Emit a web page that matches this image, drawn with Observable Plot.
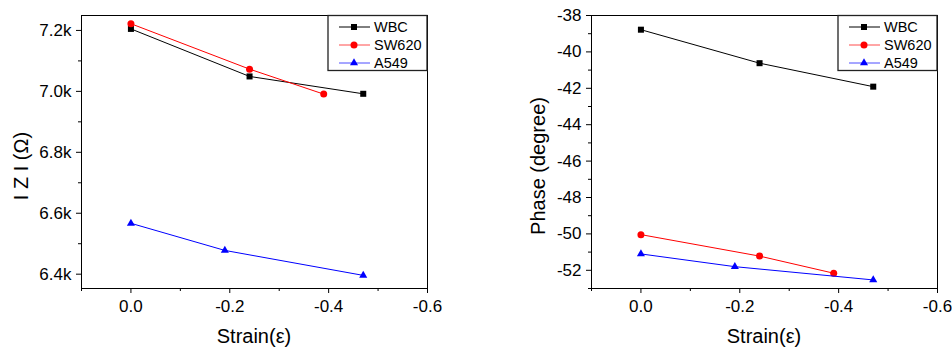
<!DOCTYPE html>
<html>
<head>
<meta charset="utf-8">
<script src="https://cdn.jsdelivr.net/npm/d3@7"></script>
<script src="https://cdn.jsdelivr.net/npm/@observablehq/plot@0.6"></script>
<style>
  html, body { margin: 0; padding: 0; background: #fff; }
  #wrap { display: flex; width: 952px; height: 349px; }
  svg { font-family: "Liberation Sans", Arial, sans-serif; }
</style>
</head>
<body>
<div id="wrap"></div>
<script>
// ---- data ----
const seriesNames = ["WBC", "SW620", "A549"];
const seriesColors = ["#000000", "#ff0000", "#0000ff"];
const seriesSymbols = ["square", "circle", "triangle"];
const seriesRadius = [3.4, 3.5, 3.0];

const strainWBC = [0, -0.24, -0.47];
const strainSW620 = [0, -0.24, -0.39];
const strainA549 = [0, -0.19, -0.47];

const impedanceWBC = [7205, 7049, 6992];
const impedanceSW620 = [7222, 7073, 6991];
const impedanceA549 = [6567, 6478, 6396];

const phaseWBC = [-38.78, -40.62, -41.91];
const phaseSW620 = [-50.04, -51.22, -52.16];
const phaseA549 = [-51.1, -51.8, -52.53];

const xMajorTicks = [0, -0.2, -0.4, -0.6];
const xMinorTicks = [0.1, -0.1, -0.3, -0.5];
const impMajorTicks = [6400, 6600, 6800, 7000, 7200];
const impMinorTicks = [6500, 6700, 6900, 7100];
const phaseMajorTicks = [-52, -50, -48, -46, -44, -42, -40, -38];
const phaseMinorTicks = [-53, -51, -49, -47, -45, -43, -41, -39];

const strains = [strainWBC, strainSW620, strainA549];
function buildRows(values) {
  const rows = [];
  values.forEach((vals, si) => vals.forEach((v, i) => rows.push({series: seriesNames[si], x: strains[si][i], y: v})));
  return rows;
}
const impRows = buildRows([impedanceWBC, impedanceSW620, impedanceA549]);
const phaseRows = buildRows([phaseWBC, phaseSW620, phaseA549]);

const W = 476, H = 349;
const font = '"Liberation Sans", Arial, sans-serif';

function makePanel({rows, yDomain, yMajor, yMinor, yFormat, yLabel, labelX, marginLeft, marginRight}) {
  const marginTop = 15, marginBottom = 61;
  const marks = [
    Plot.frame({stroke: "#000", strokeWidth: 1}),
    Plot.axisX({ticks: xMajorTicks, tickSize: 5, tickPadding: 6, fontSize: 17, tickFormat: d => d3.format(".1f")(d).replace("−", "-"), label: null}),
    Plot.axisX({ticks: xMinorTicks, tickSize: 3, tickFormat: () => "", label: null}),
    Plot.axisY({ticks: yMajor, tickSize: 5, tickPadding: 5, fontSize: 17, tickFormat: yFormat, label: null}),
    Plot.axisY({ticks: yMinor, tickSize: 3, tickFormat: () => "", label: null})
  ];
  seriesNames.forEach((name, si) => {
    const data = rows.filter(r => r.series === name);
    marks.push(Plot.line(data, {x: "x", y: "y", stroke: seriesColors[si], strokeWidth: 1}));
    marks.push(Plot.dot(data, {x: "x", y: "y", fill: seriesColors[si], stroke: "none", symbol: seriesSymbols[si], r: seriesRadius[si]}));
  });
  const svg = Plot.plot({
    width: W, height: H,
    marginTop, marginBottom, marginLeft, marginRight,
    style: {fontFamily: font, fontSize: "17px", color: "#000", background: "#fff"},
    x: {domain: [0.1, -0.6]},
    y: {domain: yDomain},
    marks
  });
  const s = d3.select(svg);
  const frameRight = W - marginRight, frameLeft = marginLeft;
  // axis titles
  s.append("text")
    .attr("x", (frameLeft + frameRight) / 2).attr("y", 343)
    .attr("text-anchor", "middle").attr("font-size", 20).attr("fill", "#000")
    .style("font-family", font)
    .text("Strain(ε)");
  s.append("text")
    .attr("transform", `translate(${labelX},166) rotate(-90)`)
    .attr("text-anchor", "middle").attr("font-size", 20).attr("fill", "#000")
    .style("font-family", font)
    .text(yLabel);
  // legend
  const lg = s.append("g");
  lg.append("rect")
    .attr("x", frameRight - 99).attr("y", marginTop + 0.5)
    .attr("width", 99).attr("height", 55)
    .attr("fill", "#fff").attr("stroke", "#222").attr("stroke-width", 1.3);
  seriesNames.forEach((name, si) => {
    const cy = marginTop + 12 + si * 18;
    lg.append("line")
      .attr("x1", frameRight - 88).attr("x2", frameRight - 57)
      .attr("y1", cy).attr("y2", cy)
      .attr("stroke", seriesColors[si]).attr("stroke-width", 1).attr("stroke-opacity", si === 0 ? 1 : 0.7);
    const sym = [d3.symbolSquare, d3.symbolCircle, d3.symbolTriangle][si];
    const r = seriesRadius[si];
    lg.append("path")
      .attr("transform", `translate(${frameRight - 73},${cy})`)
      .attr("d", d3.symbol(sym, Math.PI * r * r)())
      .attr("fill", seriesColors[si]);
    lg.append("text")
      .attr("x", frameRight - 53).attr("y", cy).attr("dy", "0.36em")
      .attr("text-anchor", "start")
      .attr("font-size", 14.5).attr("fill", "#000")
      .style("font-family", font)
      .text(name);
  });
  return svg;
}

const wrap = document.getElementById("wrap");
wrap.appendChild(makePanel({
  rows: impRows,
  yDomain: [6353, 7249],
  yMajor: impMajorTicks,
  yMinor: impMinorTicks,
  yFormat: d => (d / 1000).toFixed(1) + "k",
  yLabel: "I Z I (Ω)",
  labelX: 28,
  marginLeft: 81, marginRight: 49
}));
wrap.appendChild(makePanel({
  rows: phaseRows,
  yDomain: [-53, -38],
  yMajor: phaseMajorTicks,
  yMinor: phaseMinorTicks,
  yFormat: d => String(d),
  yLabel: "Phase (degree)",
  labelX: 69,
  marginLeft: 115, marginRight: 15
}));
</script>
</body>
</html>
